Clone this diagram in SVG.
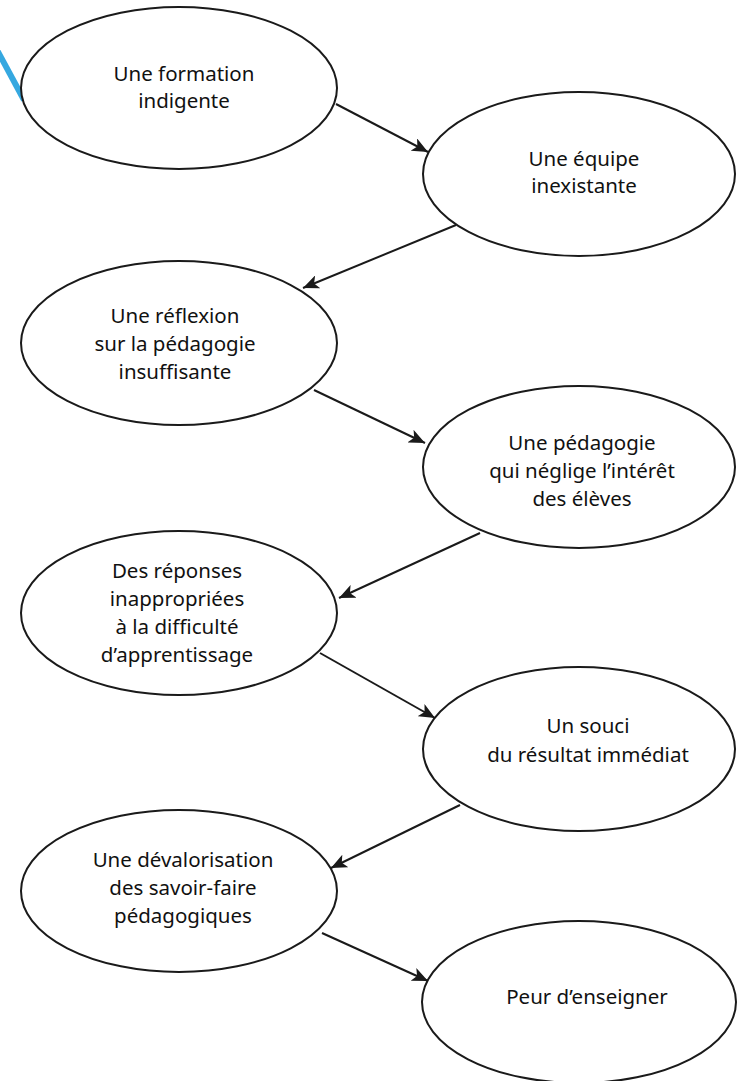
<svg xmlns="http://www.w3.org/2000/svg" width="737" height="1081" viewBox="0 0 737 1081">
<style>
.n ellipse{fill:#fff;stroke:#1a1a1a;stroke-width:2}
.n text{font-family:"Noto Sans","Open Sans",sans-serif;font-size:20.5px;fill:#111;text-anchor:middle}
.c line{stroke:#1a1a1a;stroke-width:2;marker-end:url(#ah)}
</style>
<defs>
<marker id="ah" markerUnits="userSpaceOnUse" markerWidth="18" markerHeight="14" refX="16" refY="7" orient="auto">
<path d="M0,0 L16,7 L0,14 L4,7 z" fill="#1a1a1a"/>
</marker>
</defs>
<rect width="737" height="1081" fill="#fff"/>
<line x1="-3" y1="50" x2="24" y2="100" stroke="#35a8e0" stroke-width="6"/>
<g id="n1" class="n"><ellipse cx="179" cy="88" rx="158" ry="81"/><text x="184" y="81">Une formation</text><text x="184" y="108">indigente</text></g>
<g id="n2" class="n"><ellipse cx="579" cy="174" rx="156" ry="82"/><text x="584" y="166">Une équipe</text><text x="584" y="193">inexistante</text></g>
<g id="n3" class="n"><ellipse cx="179" cy="343" rx="158" ry="82"/><text x="175" y="323">Une réflexion</text><text x="175" y="351">sur la pédagogie</text><text x="175" y="379">insuffisante</text></g>
<g id="n4" class="n"><ellipse cx="579" cy="467" rx="156" ry="81"/><text x="582" y="450">Une pédagogie</text><text x="582" y="478">qui néglige l’intérêt</text><text x="582" y="506">des élèves</text></g>
<g id="n5" class="n"><ellipse cx="179" cy="613" rx="158" ry="82"/><text x="177" y="578">Des réponses</text><text x="177" y="606">inappropriées</text><text x="177" y="634">à la difficulté</text><text x="177" y="662">d’apprentissage</text></g>
<g id="n6" class="n"><ellipse cx="579" cy="749" rx="156" ry="82"/><text x="588" y="733">Un souci</text><text x="588" y="762">du résultat immédiat</text></g>
<g id="n7" class="n"><ellipse cx="179" cy="891" rx="158" ry="81"/><text x="183" y="867">Une dévalorisation</text><text x="183" y="895">des savoir-faire</text><text x="183" y="923">pédagogiques</text></g>
<g id="n8" class="n"><ellipse cx="579" cy="1002" rx="157" ry="81"/><text x="587" y="1004">Peur d’enseigner</text></g>
<g id="connectors" class="c">
<line x1="336" y1="104" x2="428" y2="152"/>
<line x1="456" y1="225" x2="303" y2="288"/>
<line x1="314" y1="390" x2="425" y2="443"/>
<line x1="480" y1="533" x2="339" y2="598"/>
<line x1="320" y1="653" x2="435" y2="718"/>
<line x1="460" y1="805" x2="331" y2="868"/>
<line x1="322" y1="933" x2="428" y2="981"/>
</g>
</svg>
